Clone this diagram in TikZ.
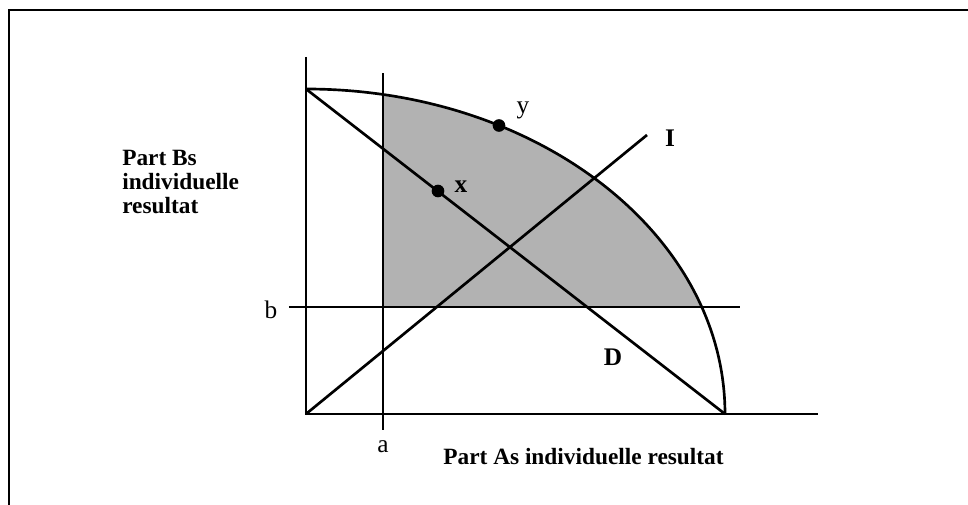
\documentclass[tikz,border=0pt]{standalone}
\usepackage{fontspec}
\setmainfont{Liberation Serif}
\begin{document}
\begin{tikzpicture}[x=0.75pt,y=0.75pt,
  every node/.style={inner sep=0pt},
  axis/.style={line width=2pt},
  guide/.style={line width=1pt},
  dot/.style={circle,fill,minimum size=9.5pt},
  letter/.style={font=\fontsize{19}{22}\selectfont},
  title/.style={font=\fontsize{17.5}{18}\selectfont\bfseries,align=left}]
  \useasboundingbox (-306,-91) rectangle (662,414);
  % frame
  \coordinate (fbot) at (-297,-91);
  \coordinate (fcorner) at (-297,404);
  \coordinate (fright) at (662,404);
  \draw[line width=1.5pt] (fbot) -- (fcorner) -- (fright);
  % shaded set
  \fill[black!30] (77,107) -- (77,319.5)
    arc[start angle=79.41,end angle=19.22,x radius=419,y radius=325] -- cycle;
  \coordinate (O) at (0,0);
  \coordinate (ytop) at (0,357);
  \coordinate (xend) at (512,0);
  \coordinate (P) at (0,325);
  \coordinate (Q) at (419,0);
  \coordinate (Itop) at (341,279);
  \coordinate (atop) at (77,341);
  \coordinate (abot) at (77,-16);
  \coordinate (bleft) at (-17,107);
  \coordinate (bright) at (434,107);
  \draw[guide] (abot) -- (atop);
  \draw[guide] (bleft) -- (bright);
  \draw[axis] (ytop) -- (O) -- (xend);
  \draw[axis] (P) -- (Q);
  \draw[axis] (O) -- (Itop);
  \draw[axis] (P) arc[start angle=90,end angle=0,x radius=419,y radius=325];
  \node[dot] (xpt) at (132,223) {};
  \node[dot] (ypt) at (193,288.5) {};
  \node[letter,font=\fontsize{19}{22}\selectfont\bfseries] (xlab) at (155,227) {x};
  \node[letter] (ylab) at (217,304) {y};
  \node[letter,font=\fontsize{19}{22}\selectfont\bfseries] (Ilab) at (364,276) {I};
  \node[letter,font=\fontsize{19}{22}\selectfont\bfseries] (Dlab) at (307,57) {D};
  \node[letter] (alab) at (77,-33) {a};
  \node[letter] (blab) at (-35,104) {b};
  \node[title,anchor=west] (Bs) at (-184,232) {Part Bs\\individuelle\\resultat};
  \node[title] (As) at (277.5,-43) {Part As individuelle resultat};
\end{tikzpicture}
\end{document}
